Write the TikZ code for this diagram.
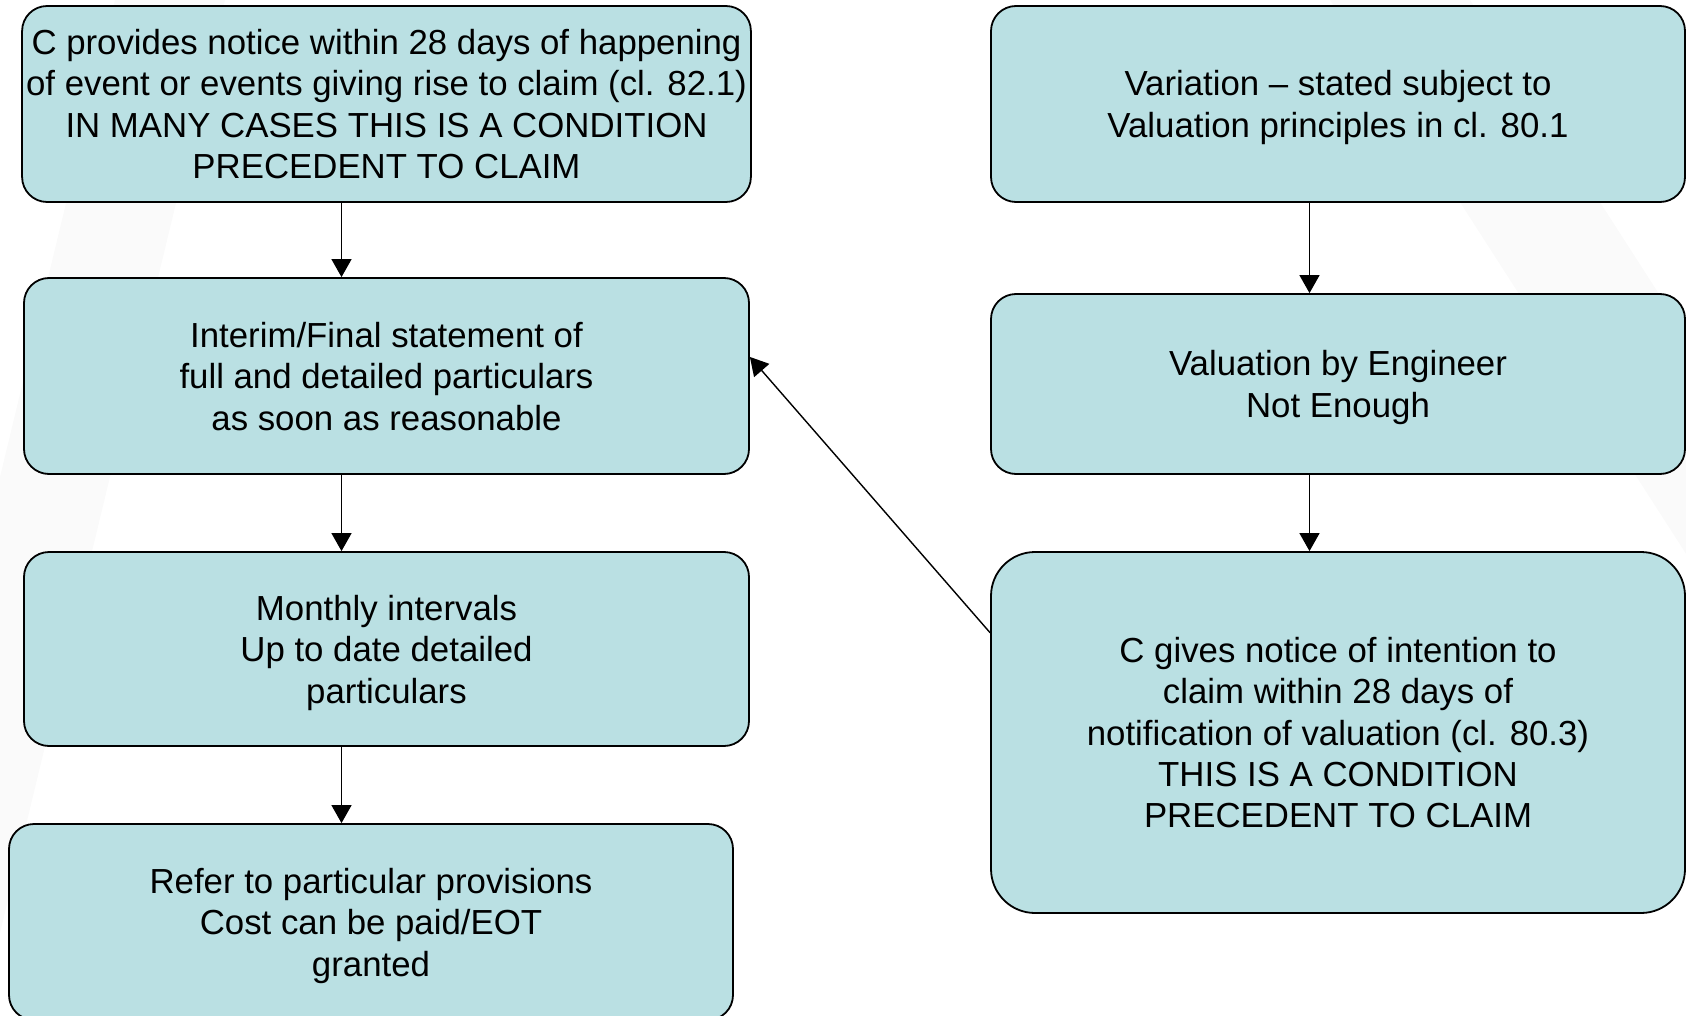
\documentclass[tikz,border=0pt]{standalone}
\usepackage{fontspec}
\setmainfont{Liberation Sans}
\usepackage{tikz}
\usetikzlibrary{calc,arrows.meta}
\definecolor{boxfill}{RGB}{186,224,227}
\tikzset{
  claimbox/.style={draw=black, line width=0.9pt, fill=boxfill, rounded corners=12.5pt,
    align=center, inner sep=2pt, font=\fontsize{17.4}{20.7}\selectfont,
    text depth=-0.5pt},
  flowarrow/.style={line width=0.7pt, -{Triangle[length=9pt,width=10pt]}},
  watermark/.style={fill=black!2, draw=none}
}

\begin{document}
\begin{tikzpicture}[x=0.5pt,y=-0.5pt]
				%%%%% START %%%%%
				\useasboundingbox (0,0) rectangle (1686,1016);
				\begin{scope}
				\clip (0,0) rectangle (1686,1016);
				\fill[watermark] (115,0) -- (225,0) -- (-20,1016) -- (-130,1016) -- cycle;
				\fill[watermark] (1330,0) -- (1470,0) -- (1830,560) -- (1690,560) -- cycle;
				\end{scope}
				
				% left column
				\node[claimbox, minimum width=362.5pt, minimum height=98pt] (notice) at (386.5,104)
				  {C provides notice within 28 days of happening\\ of event or events giving rise to claim (cl. 82.1)\\ IN MANY CASES THIS IS A CONDITION\\ PRECEDENT TO CLAIM};
				\node[claimbox, minimum width=362.5pt, minimum height=98pt] (statement) at (386.5,376)
				  {Interim/Final statement of\\ full and detailed particulars\\ as soon as reasonable};
				\node[claimbox, minimum width=362.5pt, minimum height=97pt] (monthly) at (386.5,649)
				  {Monthly intervals\\ Up to date detailed\\ particulars};
				\node[claimbox, minimum width=362pt, minimum height=98pt] (provisions) at (371,922)
				  {Refer to particular provisions\\ Cost can be paid/EOT\\ granted};
				
				% right column
				\node[claimbox, minimum width=347pt, minimum height=98pt] (variation) at (1338,104)
				  {Variation -- stated subject to\\ Valuation principles in cl. 80.1};
				\node[claimbox, minimum width=347pt, minimum height=90pt] (valuation) at (1338,384)
				  {Valuation by Engineer\\ Not Enough};
				\node[claimbox, rounded corners=22pt, minimum width=347pt, minimum height=180.5pt] (intention) at (1338,732.5)
				  {C gives notice of intention to\\ claim within 28 days of\\ notification of valuation (cl. 80.3)\\ THIS IS A CONDITION\\ PRECEDENT TO CLAIM};
				
				\coordinate (lcol) at (341.5,0);
				\coordinate (rcol) at (1309.5,0);
				
				\draw[flowarrow] (notice.south -| lcol) -- (statement.north -| lcol);
				\draw[flowarrow] (statement.south -| lcol) -- (monthly.north -| lcol);
				\draw[flowarrow] (monthly.south -| lcol) -- (provisions.north -| lcol);
				
				\draw[flowarrow] (variation.south -| rcol) -- (valuation.north -| rcol);
				\draw[flowarrow] (valuation.south -| rcol) -- (intention.north -| rcol);
				
				\draw[flowarrow] (intention.164.9) -- (statement.3.8);
				%%%%% END %%%%%
\end{tikzpicture}
\end{document}
